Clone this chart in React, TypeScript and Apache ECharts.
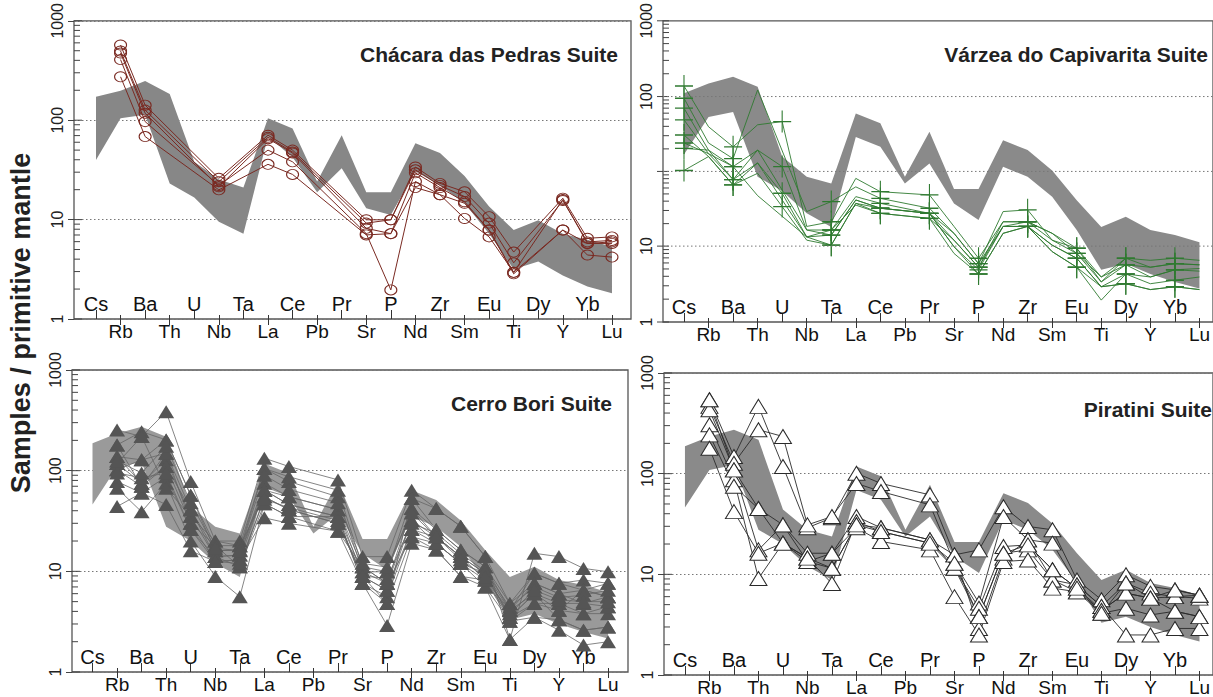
import React, { useEffect, useRef } from 'react';
import * as echarts from 'echarts';

const ELEMENTS = ['Cs', 'Rb', 'Ba', 'Th', 'U', 'Nb', 'Ta', 'La', 'Ce', 'Pb', 'Pr', 'Sr', 'P', 'Nd', 'Zr', 'Sm', 'Eu', 'Ti', 'Dy', 'Y', 'Yb', 'Lu'];
const _ = null;

// Grey reference field (upper / lower envelope)
const BAND_P1_UPPER = [159, 182, 227, 169, 36, 24, 20, 97, 77, 23, 66, 18, 18, 55, 44, 26, 13, 7.6, 9.5, 7.0, 6.1, 5.2];
const BAND_P1_LOWER = [37.5, 97, 105, 22, 16, 9.2, 7.0, 64, 40, 18, 31, 12.5, 10.7, 29, 21, 14, 7.0, 3.1, 3.7, 2.7, 2.1, 1.8];
// Same field
const BAND_UPPER = [187, 234, 273, 217, 44, 27.7, 23.8, 118, 94, 27.7, 77.5, 21, 21, 64, 51, 32, 16.2, 8.8, 11.1, 8.2, 7.3, 6.2];
const BAND_LOWER = [46, 109, 122, 27.7, 20, 12, 8.8, 69, 55, 23.8, 37.5, 15, 10.3, 34.8, 27.7, 17.5, 8.2, 3.3, 3.8, 3.0, 2.5, 2.15];

// Chácara das Pedras Suite (open circles)
const CHACARA = [
  [_, 516, 131, _, _, 24.7, _, 66, 47, _, _, 9.6, 9.6, 32, 22, 18.2, 10.3, 4.6, _, 15.7, 6.3, 6.5],
  [_, 450, 117, _, _, 22.9, _, 63, 45, _, _, 8.9, 9.6, 30, 21, 16.3, 8.9, 3.6, _, 14.9, 5.8, 6.0],
  [_, 430, 109, _, _, 20.4, _, 61, 44, _, _, 7.9, 7.0, 28, 20, 14.5, 7.6, 2.9, _, 15.2, 5.6, 5.6],
  [_, 370, 90, _, _, 21, _, 47, 36, _, _, 7.0, 1.94, 23, 17, 14, 7.6, 2.8, _, 7.6, 5.6, 5.8],
  [_, 250, 64, _, _, 19, _, 34, 27, _, _, 6.8, 7.0, 20, 17, 9.9, 6.5, 2.9, _, 7.6, 4.3, 4.1],
];

// Várzea do Capivarita Suite (crosses)
const VARZEA = [
  [167, 60, 42, 202, _, 12.5, 15.7, 22, 16.9, _, 13.5, 7.6, 3.8, 12.5, 13, 6.5, 5.4, 2.5, 4.3, 4.1, 4.3, 4.1],
  [221, 87, 55, 91, 98, 8.9, 9.9, 26.7, 19.7, _, 18.3, 8.9, 4.3, 9.9, 9.9, 7.6, 4.8, 2.8, 3.7, 3.5, 3.8, 3.7],
  [133, 51, 35, 51, 35, 8.2, 8.2, 17.6, 15.1, _, 12, 6.5, 3.5, 8.9, 8.9, 5.8, 4.3, 2.24, 3.0, 2.8, 3.3, 3.4],
  [102, 47, 26, 38, 19, 7.0, 7.3, 16.3, 13.5, _, 12, 5.6, 3.3, 8.9, 8.9, 5.0, 3.5, 1.65, 3.0, 2.4, 2.6, 2.8],
  [72, 44, 23, 30, 14, 6.5, 5.8, 15.1, 12, _, 10.7, 4.8, 3.0, 7.6, 8.9, 5.8, 4.3, 2.24, 2.4, 2.1, 2.24, 2.1],
  [60, 47, 35, 18, _, 7.0, 8.2, 14.5, 12, _, 10.7, 6.5, 3.5, 9.9, 9.9, 6.5, 4.8, 2.5, 3.7, 2.8, 3.3, 3.2],
  [53, 51, 26, 51, _, 8.2, 7.3, 16.3, 13.5, _, 12, 7.6, 3.8, 8.9, 9.9, 7.6, 5.4, 2.8, 4.3, 3.5, 3.8, 3.7],
  [32, 44, 23, 38, _, 7.0, 5.8, 15.1, 13.5, _, 12, 5.6, 3.0, 7.6, 8.9, 5.0, 3.5, 2.24, 2.4, 2.1, 2.24, 2.1],
];

// Cerro Bori Suite (filled triangles)
const CERRO_BORI = [
  [_, 254, 218, 385, 78, 20, 20, 133, 110, _, 81, 14, 14, 64, 42, 28, 14, 4.8, 9.55, 7.6, 8.2, 7.6],
  [_, 180, 244, 202, 57, 18, 18, 105, 87, _, 64, 11.1, 9.9, 53, 26, 16.3, 11.1, 4.1, 7.6, 6.0, 6.5, 5.6],
  [_, 138, 128, 149, 41, 16, 16.3, 105, 78, _, 55, 9.9, 7.6, 42, 22, 14, 9.55, 3.5, 6.0, 4.8, 4.8, 4.46],
  [_, 118, 75, 128, 35, 14, 14.5, 75, 55, _, 41, 8.9, 6.5, 32, 22, 14, 8.2, 3.2, 4.8, 4.1, 3.8, 3.8],
  [_, 102, 70, 110, 30, 12.5, 13, 64, 46, _, 35, 7.6, 5.6, 26, 19, 12, 7.0, 3.2, 3.5, 3.3, 2.6, 2.8],
  [_, 78, 60, 87, 26, 14, 11.1, 55, 41, _, 30, 8.9, 4.8, 22, 16.3, 8.9, 7.0, 2.1, 3.5, 2.6, 1.85, 2.0],
  [_, 67, 39, 75, 20, 8.9, 5.6, 47, 35, _, 25, 7.6, 2.9, 19, 16.3, 8.9, 8.2, 3.5, 6.0, 3.3, 2.6, 2.8],
  [_, 44, 60, 46, 16, 12.5, 13, 34, 30, _, 25, 11.1, 7.6, 22, 19, 12, 9.55, 4.1, 9.55, 7.6, 6.5, 7.6],
  [_, 102, 128, 202, 57, 16, 16.3, 64, 46, _, 35, 9.9, 9.9, 42, 26, 16.3, 11.1, 4.8, 7.6, 6.0, 4.8, 5.6],
  [_, 118, 218, 67, 35, 20, 18, 55, 41, _, 30, 8.9, 6.5, 26, 22, 14, 9.55, 3.5, 4.8, 4.8, 3.8, 4.46],
  [_, 138, 75, 110, 41, 14, 14.5, 64, 55, _, 41, 11.1, 7.6, 32, 19, 12, 8.2, 4.1, 6.0, 4.1, 6.5, 5.6],
  [_, 180, 70, 149, 30, 18, 11.1, 47, 35, _, 35, 7.6, 4.8, 53, 42, 28, 14, 2.1, 15.1, 14, 10.7, 9.9],
  [_, 95, 85, 95, 26, 12.5, 12, 52, 43, _, 32, 9.0, 8.5, 30, 24, 15, 10, 4.4, 7.0, 5.5, 5.8, 6.5],
  [_, 125, 95, 175, 48, 17, 16, 90, 65, _, 48, 12, 11, 38, 22, 13, 8.8, 3.8, 6.5, 5.2, 5.0, 5.0],
];

// Piratini Suite (open triangles)
const PIRATINI = [
  [_, 543, 148, 466, 118, 29, 36.5, 101, 80, _, 61.6, 15.6, 17.5, 47, 29.9, 27.7, 8.8, 5.6, 9.9, 7.6, 7.0, 6.2],
  [_, 466, 127, 273, 234, 31, 37.5, 80, 66.5, _, 49, 12.9, 5.2, 37.5, 22, 20.4, 7.85, 4.8, 8.2, 6.5, 6.0, 5.8],
  [_, 431, 109, 17.5, 31, 16.2, 16.2, 37.5, 29, _, 22, 11.5, 4.6, 18.9, 19.6, 11.1, 7.3, 4.4, 6.5, 5.8, 6.0, 6.2],
  [_, 306, 87, 9.1, 20.4, 14.5, 8.1, 33.5, 26.6, _, 20.4, 11.5, 3.8, 16.2, 17.5, 8.8, 6.7, 4.1, 4.6, 3.95, 4.3, 3.8],
  [_, 243, 75, 45, 31, 13.4, 11.5, 31, 29, _, 22, 15.6, 2.9, 14.5, 22, 8.8, 7.85, 4.8, 2.5, 2.5, 2.9, 2.9],
  [_, 179, 42, 16.2, 20.4, 13.4, 16.2, 29, 21.2, _, 17.5, 6.0, 2.5, 13.4, 13.9, 7.3, 6.7, 4.4, 6.5, 5.8, 4.3, 3.8],
  [_, 543, 109, 45, 20.4, 14.5, 11.5, 31, 26.6, _, 20.4, 12.9, 3.8, 16.2, 19.6, 11.1, 7.3, 4.1, 8.2, 5.8, 7.0, 6.2],
];

// Axis decoration of the top-right panel (its gridlines / labels sit off the decades)
const P2_GRID_VALUES = [176, 31.6, 5.7];
const P2_GRID_LABELS = ['100', '', '10'];
const P2_SEGMENTS = [1, 5.7, 31.6, 176, 1000];

const FONT = '"Liberation Sans", Arial, Helvetica, sans-serif';
const MINOR_STEPS = [2, 3, 4, 5, 6, 7, 8, 9];
const DECADES = [1, 10, 100];

type Panel = {
  title: string;
  samples: (number | null)[][];
  upper: number[];
  lower: number[];
  bandColor: string;
  lineColor: string;
  lineWidth: number;
  symbol: string;
  symbolSize: number[];
  itemStyle: any;
  frame: { left: number; top: number; width: number; height: number };
  csX: number;
  step: number;
  titleRight: number;
  titleTop: number;
  shifted: boolean;
};

const PANELS: Panel[] = [
  {
    title: 'Chácara das Pedras Suite', samples: CHACARA, upper: BAND_P1_UPPER, lower: BAND_P1_LOWER,
    bandColor: '#878787', lineColor: '#7a2a22', lineWidth: 1, symbol: 'circle', symbolSize: [12, 10],
    itemStyle: { color: 'rgba(0,0,0,0)', borderColor: '#7a2a22', borderWidth: 1 },
    frame: { left: 74, top: 16, width: 557, height: 303 }, csX: 96, step: 24.57,
    titleRight: 595, titleTop: 44, shifted: false,
  },
  {
    title: 'Várzea do Capivarita Suite', samples: VARZEA, upper: BAND_UPPER, lower: BAND_LOWER,
    bandColor: '#8a8a8a', lineColor: '#2f7a30', lineWidth: 0.9, symbol: 'path://M0,10L20,10M10,0L10,20', symbolSize: [18, 22],
    itemStyle: { color: 'rgba(0,0,0,0)', borderColor: '#2f7a30', borderWidth: 1.2 },
    frame: { left: 663, top: 20, width: 557, height: 302 }, csX: 684, step: 24.57,
    titleRight: 5, titleTop: 44, shifted: true,
  },
  {
    title: 'Cerro Bori Suite', samples: CERRO_BORI, upper: BAND_UPPER, lower: BAND_LOWER,
    bandColor: '#9a9a9a', lineColor: '#666666', lineWidth: 0.8, symbol: 'triangle', symbolSize: [16, 13],
    itemStyle: { color: '#555555', borderWidth: 0 },
    frame: { left: 72, top: 370, width: 556, height: 302 }, csX: 92.5, step: 24.55,
    titleRight: 601, titleTop: 393, shifted: false,
  },
  {
    title: 'Piratini Suite', samples: PIRATINI, upper: BAND_UPPER, lower: BAND_LOWER,
    bandColor: '#8a8a8a', lineColor: '#2a2a2a', lineWidth: 0.9, symbol: 'triangle', symbolSize: [17, 14],
    itemStyle: { color: '#ffffff', borderColor: '#2a2a2a', borderWidth: 1 },
    frame: { left: 664, top: 373, width: 556, height: 302 }, csX: 685, step: 24.6,
    titleRight: 1, titleTop: 399, shifted: false,
  },
];

function buildOption() {
  const grid: any[] = [];
  const xAxis: any[] = [];
  const yAxis: any[] = [];
  const series: any[] = [];
  const title: any[] = [];

  PANELS.forEach((p) => {
    const gF = grid.length;
    grid.push({ left: p.frame.left, top: p.frame.top, width: p.frame.width, height: p.frame.height, show: true, borderColor: '#555', borderWidth: 1.3, backgroundColor: 'transparent' });
    const gD = grid.length;
    grid.push({ left: p.csX - p.step / 2, top: p.frame.top, width: p.step * ELEMENTS.length, height: p.frame.height });

    const xF = xAxis.length;
    xAxis.push({ type: 'value', gridIndex: gF, min: 0, max: 1, show: false });
    const xA = xAxis.length;
    xAxis.push({
      type: 'category', gridIndex: gD, data: ELEMENTS, boundaryGap: true, position: 'bottom',
      axisLine: { show: false },
      axisTick: { show: true, inside: true, length: 9, alignWithLabel: true, interval: (i: number) => i % 2 === 0, lineStyle: { color: '#333', width: 1 } },
      axisLabel: { inside: true, interval: (i: number) => i % 2 === 0, fontSize: 20, margin: 5, color: '#111', fontFamily: FONT },
      splitLine: { show: false },
    });
    xAxis.push({
      type: 'category', gridIndex: gD, data: ELEMENTS, boundaryGap: true, position: 'bottom',
      axisLine: { show: false },
      axisTick: { show: true, inside: false, length: 6, alignWithLabel: true, interval: (i: number) => i % 2 === 1, lineStyle: { color: '#333', width: 1 } },
      axisLabel: { inside: false, interval: (i: number) => i % 2 === 1, fontSize: 19, margin: 3, color: '#111', fontFamily: FONT },
      splitLine: { show: false },
    });
    xAxis.push({
      type: 'category', gridIndex: gD, data: ELEMENTS, boundaryGap: true, position: 'bottom',
      axisLine: { show: false },
      axisTick: { show: true, inside: true, length: 4, alignWithLabel: true, interval: (i: number) => i % 2 === 1, lineStyle: { color: '#333', width: 1 } },
      axisLabel: { show: false },
      splitLine: { show: false },
    });

    const yF = yAxis.length;
    yAxis.push({
      type: 'log', logBase: 10, gridIndex: gF, min: 1, max: 1000,
      axisLine: { show: false },
      axisTick: { show: !p.shifted, length: 6, lineStyle: { color: '#444' } },
      axisLabel: {
        rotate: 90, fontSize: 16, margin: 9, color: '#222', fontFamily: FONT,
        showMinLabel: true, showMaxLabel: true,
        formatter: (v: number) => {
          const r = Math.round(v);
          if (p.shifted) return r === 1 || r === 1000 ? String(r) : '';
          return String(r);
        },
      },
      splitLine: { show: !p.shifted, lineStyle: { color: '#777', type: [1.5, 2.5], width: 1 } },
    });
    const yD = yAxis.length;
    yAxis.push({ type: 'log', logBase: 10, gridIndex: gD, min: 1, max: 1000, show: false });

    // grey reference field
    series.push({
      type: 'custom', xAxisIndex: xA, yAxisIndex: yD, silent: true, z: 1, clip: false,
      data: [[0, 1]],
      renderItem: (params: any, api: any) => {
        const pts: number[][] = [];
        p.upper.forEach((v, i) => pts.push(api.coord([i, v])));
        for (let i = p.lower.length - 1; i >= 0; i--) pts.push(api.coord([i, p.lower[i]]));
        return { type: 'polygon', shape: { points: pts }, style: { fill: p.bandColor } };
      },
    });

    // samples
    p.samples.forEach((s, k) => {
      series.push({
        type: 'line', name: `${p.title} ${k + 1}`, xAxisIndex: xA, yAxisIndex: yD, data: s,
        connectNulls: true, silent: true, z: 3,
        symbol: p.symbol, symbolSize: p.symbolSize, showSymbol: true,
        lineStyle: { color: p.lineColor, width: p.lineWidth },
        itemStyle: p.itemStyle,
      });
    });

    // y-axis minor ticks (and shifted grid of the top-right panel)
    series.push({
      type: 'custom', xAxisIndex: xF, yAxisIndex: yF, silent: true, z: 4, clip: false,
      data: [[0, 1]],
      renderItem: (params: any, api: any) => {
        const children: any[] = [];
        const tickStyle = { stroke: '#444', lineWidth: 1 };
        let minor: number[] = [];
        if (!p.shifted) {
          DECADES.forEach((d) => MINOR_STEPS.forEach((m) => minor.push(m * d)));
        } else {
          for (let s = 0; s < P2_SEGMENTS.length - 1; s++) {
            const lo = P2_SEGMENTS[s];
            const span = Math.log10(P2_SEGMENTS[s + 1] / lo);
            MINOR_STEPS.forEach((m) => minor.push(lo * Math.pow(m, span)));
          }
        }
        minor.forEach((v) => {
          const [x, y] = api.coord([0, v]);
          children.push({ type: 'line', shape: { x1: x, y1: y, x2: x + 6, y2: y }, style: tickStyle });
        });
        if (p.shifted) {
          P2_SEGMENTS.forEach((v) => {
            const [x, y] = api.coord([0, v]);
            children.push({ type: 'line', shape: { x1: x - 6, y1: y, x2: x + 6, y2: y }, style: tickStyle });
          });
          P2_GRID_VALUES.forEach((v, i) => {
            const [x0, y] = api.coord([0, v]);
            const [x1] = api.coord([1, v]);
            children.push({ type: 'line', shape: { x1: x0, y1: y, x2: x1, y2: y }, style: { stroke: '#777', lineWidth: 1, lineDash: [1.5, 2.5] } });
            if (P2_GRID_LABELS[i]) {
              children.push({
                type: 'text', x: x0 - 9, y, rotation: Math.PI / 2,
                style: { text: P2_GRID_LABELS[i], fill: '#222', font: `16px ${FONT}`, align: 'center', verticalAlign: 'bottom' },
              });
            }
          });
        } else {
          [1, 10, 100, 1000].forEach((v) => {
            const [x, y] = api.coord([0, v]);
            children.push({ type: 'line', shape: { x1: x, y1: y, x2: x + 8, y2: y }, style: tickStyle });
          });
        }
        return { type: 'group', children };
      },
    });

    title.push({
      text: p.title, right: p.titleRight, top: p.titleTop, padding: 0,
      textStyle: { fontSize: 21, fontWeight: 'bold', color: '#222', fontFamily: FONT },
    });
  });

  return {
    animation: false,
    backgroundColor: '#ffffff',
    title,
    grid,
    xAxis,
    yAxis,
    series,
    graphic: [
      {
        type: 'text', x: 21, y: 323, rotation: Math.PI / 2,
        style: { text: 'Samples / primitive mantle', font: `bold 27px ${FONT}`, fill: '#222', align: 'center', verticalAlign: 'middle' },
      },
    ],
  };
}

export default function App() {
  const ref = useRef<HTMLDivElement>(null);
  useEffect(() => {
    const chart = echarts.init(ref.current as HTMLDivElement, null, { renderer: 'svg' });
    chart.setOption(buildOption() as any);
    return () => chart.dispose();
  }, []);
  return <div ref={ref} style={{ position: 'absolute', left: 0, top: 0, width: 1213, height: 697, background: '#fff' }} />;
}
